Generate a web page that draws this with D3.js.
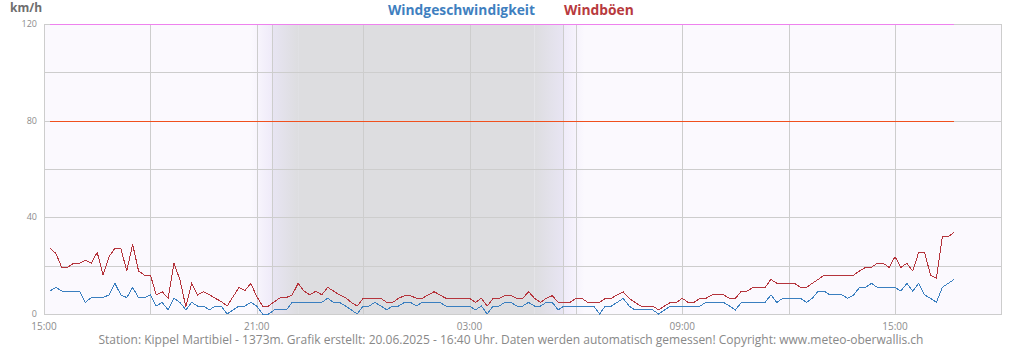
<html>
<head>
    <meta http-equiv='Content-Type' content='text/html; charset=utf-8'>
    <script src="https://d3js.org/d3.v7.min.js" charset="utf-8"></script>

    <style>

    body {
        margin: 0px;
        background-color: #ffffff;
    }

    svg text {
        font-family: "Open Sans", sans-serif;
    }

    svg .tick {
        fill: #8c8c8c;
    }

    svg .title {
        font-weight: bold;
        font-size: 13.8px;
    }

    svg .grid {
        stroke: #cdcdcd;
        stroke-width: 1;
        shape-rendering: crispEdges;
    }

    svg .series {
        fill: none;
        stroke-width: 1;
        shape-rendering: crispEdges;
    }

    </style>
</head>

<body>

    <script>

    var w = 1024;
    var h = 350;

    /* 10-minute values, first value at 15:10 on 19.06.2025 */
    var startTime = new Date(2025, 5, 19, 15, 10);
    var stepMinutes = 10;

    var windSpeed = [
        9.5, 11.0, 9.5, 9.5, 9.5, 9.5, 4.8, 6.8, 6.8, 6.8,
        7.9, 12.7, 7.9, 6.8, 11.0, 6.8, 6.8, 7.9, 3.3, 4.8,
        1.7, 6.5, 4.8, 1.7, 4.8, 3.3, 3.3, 1.7, 3.3, 3.3,
        0, 1.7, 3.3, 3.3, 4.8, 3.3, 0, 0, 1.7, 1.7,
        1.7, 4.8, 4.8, 4.8, 4.8, 4.8, 4.8, 6.5, 4.8, 4.8,
        3.3, 1.7, 0, 3.3, 3.3, 4.8, 3.3, 1.7, 3.3, 3.3,
        4.8, 4.8, 3.3, 4.8, 4.8, 4.8, 4.8, 3.3, 3.3, 3.3,
        3.3, 3.3, 1.7, 3.3, 0, 3.3, 3.3, 4.8, 4.8, 3.3,
        3.3, 4.8, 3.3, 3.3, 4.8, 4.8, 1.7, 3.3, 3.3, 3.3,
        3.3, 3.3, 3.3, 0, 3.3, 3.3, 4.8, 6.5, 3.3, 1.7,
        1.7, 1.7, 1.7, 0, 1.7, 3.3, 3.3, 3.3, 3.3, 3.3,
        3.3, 4.8, 4.8, 4.8, 4.8, 3.3, 1.7, 4.8, 4.8, 4.8,
        4.8, 4.8, 7.9, 4.8, 6.5, 6.5, 6.5, 6.5, 4.8, 6.5,
        9.5, 9.5, 7.9, 7.9, 7.9, 6.5, 7.9, 11.0, 11.0, 12.7,
        11.0, 11.0, 11.0, 11.0, 9.5, 12.7, 9.5, 12.7, 7.9, 6.5,
        4.8, 11.0, 12.7, 14.3];

    var windGusts = [
        27.2, 25.1, 19.3, 19.3, 21.0, 21.0, 22.2, 21.0, 25.5, 16.1,
        23.7, 27.2, 27.2, 17.8, 28.8, 17.8, 16.1, 16.1, 7.9, 9.2,
        6.5, 21.0, 14.1, 3.0, 12.7, 7.9, 9.2, 7.9, 6.5, 5.1,
        3.3, 7.2, 11.0, 9.7, 12.7, 7.2, 3.3, 3.3, 5.1, 6.8,
        6.8, 7.9, 12.7, 9.5, 7.9, 9.5, 7.9, 11.0, 9.5, 7.9,
        6.8, 4.8, 3.3, 6.5, 6.5, 6.5, 6.5, 4.8, 4.8, 6.5,
        7.6, 7.6, 6.5, 6.5, 7.9, 9.2, 7.9, 6.5, 6.5, 6.5,
        6.5, 6.5, 4.8, 6.5, 3.3, 6.5, 6.5, 7.6, 7.6, 6.5,
        6.5, 9.2, 6.5, 4.8, 6.5, 7.6, 4.8, 4.8, 4.8, 6.5,
        6.5, 4.8, 4.8, 4.8, 6.5, 6.5, 7.9, 9.2, 6.5, 4.8,
        3.3, 3.3, 3.3, 1.7, 3.3, 4.8, 4.8, 6.5, 4.8, 4.8,
        6.5, 6.5, 7.9, 7.9, 7.9, 6.5, 6.5, 9.5, 9.5, 11.0,
        11.0, 11.0, 14.3, 12.7, 12.7, 12.7, 12.7, 11.0, 11.0, 12.7,
        14.3, 16.1, 16.1, 16.1, 16.1, 16.1, 16.1, 17.8, 19.3, 19.3,
        21.0, 21.0, 19.3, 23.7, 19.3, 21.0, 17.8, 25.5, 25.5, 16.1,
        14.8, 32.0, 32.0, 33.8];

    var seriesNames = ["Windgeschwindigkeit", "Windböen"];
    var seriesColors = ["#3a7fc0", "#b5343c"];

    /* reference levels (km/h) */
    var levelValues = [80, 120];
    var levelColors = ["#f0501e", "#ee82ee"];

    var yTicks = [0, 40, 80, 120];
    var yGrid = [0, 20, 40, 60, 80, 100, 120];

    /* sunset / sunrise and twilight times */
    var duskStart = new Date(2025, 5, 19, 20, 50);
    var sunset = new Date(2025, 5, 19, 21, 25);
    var nightStart = new Date(2025, 5, 19, 22, 10);
    var nightEnd = new Date(2025, 5, 20, 4, 50);
    var sunrise = new Date(2025, 5, 20, 5, 39);
    var dawnEnd = new Date(2025, 5, 20, 6, 15);

    var footer = "Station: Kippel Martibiel - 1373m. Grafik erstellt: 20.06.2025 - 16:40 Uhr. Daten werden automatisch gemessen! Copyright: www.meteo-oberwallis.ch";

    var margin = {top: 24, right: 22, bottom: 36, left: 44};

    var times = windSpeed.map(function(d, i) {
        return new Date(startTime.getTime() + i * stepMinutes * 60000);
    });

    var x = d3.scaleTime()
        .domain([new Date(2025, 5, 19, 15, 0), new Date(2025, 5, 20, 18, 1)])
        .range([margin.left, w - margin.right]);

    var y = d3.scaleLinear()
        .domain([0, 120])
        .range([h - margin.bottom, margin.top]);

    var svg = d3.select("body")
        .append("svg")
        .attr("width", w)
        .attr("height", h);

    var defs = svg.append("defs");

    function gradient(id, c1, c2) {
        var g = defs.append("linearGradient").attr("id", id)
            .attr("x1", "0%").attr("x2", "100%").attr("y1", "0%").attr("y2", "0%");
        g.append("stop").attr("offset", "0%").attr("stop-color", c1);
        g.append("stop").attr("offset", "100%").attr("stop-color", c2);
    }

    var bg = "#fbf9fe";
    var lavender = "#efebf9";
    var night = "#dddde0";

    gradient("g1", bg, lavender);
    gradient("g2", "#e8e5f3", night);
    gradient("g3", night, "#e8e5f3");
    gradient("g4", lavender, bg);

    /* Plot background and night shading */

    svg.append("rect")
        .attr("x", margin.left).attr("y", margin.top)
        .attr("width", w - margin.left - margin.right)
        .attr("height", h - margin.top - margin.bottom)
        .attr("fill", bg);

    var bands = [
        [duskStart, sunset, "url(#g1)"],
        [sunset, nightStart, "url(#g2)"],
        [nightStart, nightEnd, night],
        [nightEnd, sunrise, "url(#g3)"],
        [sunrise, dawnEnd, "url(#g4)"]];

    svg.selectAll("rect.band")
        .data(bands)
        .enter()
        .append("rect")
        .attr("class", "band")
        .attr("x", function(d) { return x(d[0]); })
        .attr("width", function(d) { return x(d[1]) - x(d[0]); })
        .attr("y", margin.top)
        .attr("height", h - margin.top - margin.bottom)
        .attr("fill", function(d) { return d[2]; });

    /* Grid */

    svg.selectAll("line.hgrid")
        .data(yGrid)
        .enter()
        .append("line")
        .attr("class", "grid")
        .attr("x1", margin.left).attr("x2", w - margin.right)
        .attr("y1", function(d) { return Math.round(y(d)) + 0.5; })
        .attr("y2", function(d) { return Math.round(y(d)) + 0.5; });

    var xGrid = x.ticks(d3.timeHour.every(3)).concat([sunset, sunrise]);

    svg.selectAll("line.vgrid")
        .data(xGrid)
        .enter()
        .append("line")
        .attr("class", "grid")
        .attr("x1", function(d) { return Math.round(x(d)) + 0.5; })
        .attr("x2", function(d) { return Math.round(x(d)) + 0.5; })
        .attr("y1", margin.top).attr("y2", h - margin.bottom);

    svg.append("rect")
        .attr("x", margin.left + 0.5).attr("y", margin.top + 0.5)
        .attr("width", w - margin.left - margin.right - 1)
        .attr("height", h - margin.top - margin.bottom)
        .attr("fill", "none")
        .attr("stroke", "#cdcdcd")
        .attr("shape-rendering", "crispEdges");

    /* Reference levels */

    svg.selectAll("line.level")
        .data(levelValues)
        .enter()
        .append("line")
        .attr("x1", x(times[0]))
        .attr("x2", x(times[times.length - 1]))
        .attr("y1", function(d) { return Math.round(y(d)) + 0.5; })
        .attr("y2", function(d) { return Math.round(y(d)) + 0.5; })
        .attr("stroke", function(d, i) { return levelColors[i]; })
        .attr("shape-rendering", "crispEdges");

    /* Series */

    var line = d3.line()
        .x(function(d, i) { return x(times[i]); })
        .y(function(d) { return y(d); });

    [windSpeed, windGusts].forEach(function(s, i) {
        svg.append("path")
            .datum(s)
            .attr("class", "series")
            .attr("stroke", seriesColors[i])
            .attr("d", line);
    });

    /* Axis labels */

    svg.selectAll("text.ylab")
        .data(yTicks)
        .enter()
        .append("text")
        .attr("class", "tick")
        .attr("x", margin.left - 7)
        .attr("y", function(d) { return y(d) + 3; })
        .attr("text-anchor", "end")
        .style("font-size", "9px")
        .text(function(d) { return d; });

    /* labels every 6 hours, starting at 15:00 */
    var xLabels = x.ticks(d3.timeHour.every(3)).filter(function(d) {
        return d.getHours() % 6 === 3 && d.getTime() < times[times.length - 1].getTime();
    });
    var fmt = d3.timeFormat("%H:%M");

    svg.selectAll("text.xlab")
        .data(xLabels)
        .enter()
        .append("text")
        .attr("class", "tick")
        .attr("x", function(d) { return x(d); })
        .attr("y", h - margin.bottom + 16)
        .attr("text-anchor", "middle")
        .style("font-size", "10px")
        .text(function(d) { return fmt(d); });

    svg.append("text")
        .attr("x", 10)
        .attr("y", 12)
        .attr("fill", "#6e6e6e")
        .style("font-size", "12px")
        .style("font-weight", "bold")
        .text("km/h");

    /* Legend title */

    svg.append("text")
        .attr("class", "title")
        .attr("x", 388)
        .attr("y", 14.5)
        .attr("fill", "#3f7fbf")
        .text(seriesNames[0]);

    svg.append("text")
        .attr("class", "title")
        .attr("x", 564)
        .attr("y", 14.5)
        .attr("fill", "#b83a3e")
        .text(seriesNames[1]);

    svg.append("text")
        .attr("x", 511)
        .attr("y", 344)
        .attr("text-anchor", "middle")
        .attr("fill", "#888888")
        .style("font-size", "12px")
        .text(footer);

    </script>

</body>
</html>
